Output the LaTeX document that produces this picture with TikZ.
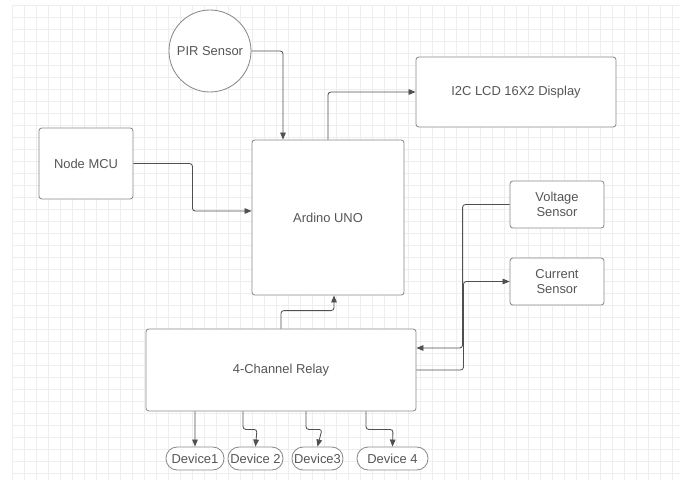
\documentclass[tikz,border=0pt]{standalone}
\usepackage{fontspec}
\setmainfont{Liberation Sans}
\usetikzlibrary{arrows.meta}

\definecolor{linegray}{HTML}{505050}
\definecolor{boxgray}{HTML}{8A8A8A}
\definecolor{textgray}{HTML}{555555}

\begin{document}
\begin{tikzpicture}[
        font=\fontsize{9.2}{11}\selectfont, text=textgray,
        block/.style={rectangle, draw=boxgray, fill=white, line width=0.6pt, rounded corners=2pt, align=center},
        pill/.style={rectangle, draw=boxgray, fill=white, line width=0.6pt, rounded corners=8pt, minimum height=0.575cm, inner sep=1pt},
        wire/.style={draw=linegray, line width=0.6pt, rounded corners=2pt, -{Triangle[length=5pt, width=4pt]}}
    ]
        \useasboundingbox (0,0) rectangle (17,12);
        % --- GRID ---
        \fill[white] (0,0) rectangle (17,12);
        \draw[gray!13, line width=0.4pt, shift={(0.3,-0.125)}, step=0.3cm] (0,0.125) grid (16.7,12);

        % --- BLOCKS ---
        \node (pir) at (5.25,10.725) [circle, draw=boxgray, fill=white, line width=0.6pt, minimum size=2.05cm, inner sep=0pt] {PIR Sensor};
        \node (ard) at (8.2,6.5625) [block, minimum width=3.8cm, minimum height=3.875cm] {Ardino UNO};
        \node (lcd) at (12.9,9.7) [block, minimum width=5cm, minimum height=1.75cm] {I2C LCD 16X2 Display};
        \node (mcu) at (2.15,7.9125) [block, minimum width=2.35cm, minimum height=1.775cm] {Node MCU};
        \node (volt) at (13.925,6.8875) [block, minimum width=2.35cm, minimum height=1.175cm] {Voltage\\Sensor};
        \node (cur) at (13.925,4.9625) [block, minimum width=2.35cm, minimum height=1.175cm] {Current\\Sensor};
        \node (relay) at (7.025,2.75) [block, minimum width=6.75cm, minimum height=2.05cm] {4-Channel Relay};

        % --- DEVICES ---
        \node (dev1) at (4.875,0.5375) [pill, minimum width=1.45cm] {Device1};
        \node (dev2) at (6.3875,0.5375) [pill, minimum width=1.375cm] {Device 2};
        \node (dev3) at (7.9375,0.5375) [pill, minimum width=1.275cm] {Device3};
        \node (dev4) at (9.8125,0.5375) [pill, minimum width=1.775cm] {Device 4};

        % --- CONNECTIONS ---
        \draw[wire] (pir.east) -| ([xshift=-1.125cm]ard.north);
        \draw[wire] (ard.north) |- (lcd.west);
        \draw[wire] (mcu.east) -- ++(1.475,0) |- ([yshift=0.1625cm]ard.west);
        \draw[wire] (relay.north) -- ++(0,0.45) -| ([xshift=0.15cm]ard.south);
        \draw[wire] (volt.west) -- ++(-1.175,0) |- ([yshift=0.55cm]relay.east);
        \draw[wire] (relay.east) -- ++(1.175,0) |- (cur.west);

        \draw[wire] ([xshift=-2.15cm]relay.south) -- (dev1.north);
        \draw[wire] ([xshift=-0.95cm]relay.south) |- ++(0.35,-0.45) -- (dev2.north);
        \draw[wire] ([xshift=0.625cm]relay.south) |- ++(0.4,-0.45) -- (dev3.north);
        \draw[wire] ([xshift=2.125cm]relay.south) |- ++(0.675,-0.45) -- (dev4.north);
    \end{tikzpicture}
\end{document}
